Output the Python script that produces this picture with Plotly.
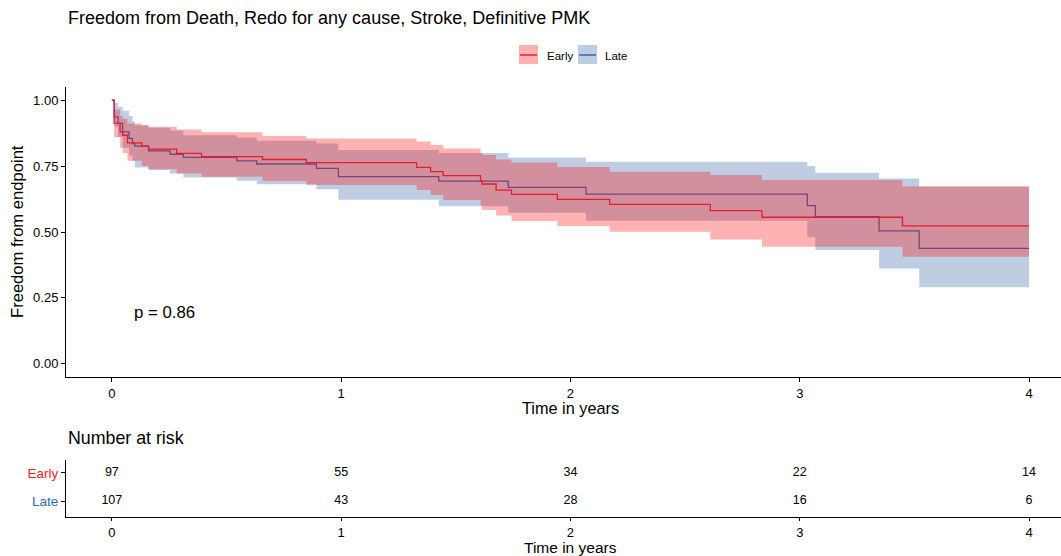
import plotly.graph_objects as go

# ---------------- data ----------------
early_t = [0, 0.010, 0.036, 0.047, 0.068, 0.131, 0.160, 0.283, 0.391, 0.657, 0.848, 1.329, 1.390, 1.445,
           1.608, 1.614, 1.676, 1.743, 1.943, 2.171, 2.610, 2.835, 3.448, 4.0]
early_s = [1, 0.912, 0.880, 0.867, 0.838, 0.826, 0.814, 0.798, 0.786, 0.775, 0.763, 0.745, 0.729, 0.714,
           0.694, 0.682, 0.659, 0.643, 0.624, 0.605, 0.581, 0.556, 0.523, 0.523]
early_up = [1, 0.965, 0.94, 0.93, 0.912, 0.905, 0.899, 0.889, 0.878, 0.864, 0.855, 0.843, 0.830, 0.817,
            0.800, 0.792, 0.775, 0.764, 0.747, 0.729, 0.716, 0.697, 0.674, 0.674]
early_lo = [1, 0.86, 0.82, 0.80, 0.77, 0.75, 0.738, 0.722, 0.710, 0.693, 0.678, 0.659, 0.640, 0.621,
            0.600, 0.583, 0.563, 0.542, 0.523, 0.501, 0.472, 0.444, 0.406, 0.406]

late_t = [0, 0.010, 0.027, 0.047, 0.075, 0.090, 0.100, 0.160, 0.254, 0.312, 0.545, 0.632, 0.892, 0.988,
          1.426, 1.729, 2.068, 3.033, 3.068, 3.346, 3.521, 4.0]
late_s = [1, 0.937, 0.912, 0.880, 0.855, 0.835, 0.826, 0.808, 0.795, 0.783, 0.770, 0.758, 0.741, 0.710,
          0.693, 0.669, 0.644, 0.600, 0.558, 0.504, 0.438, 0.438]
late_up = [1, 0.99, 0.975, 0.96, 0.94, 0.92, 0.905, 0.895, 0.885, 0.867, 0.858, 0.846, 0.836, 0.811,
           0.800, 0.783, 0.766, 0.750, 0.725, 0.703, 0.672, 0.672]
late_lo = [1, 0.90, 0.86, 0.82, 0.79, 0.77, 0.745, 0.735, 0.722, 0.707, 0.694, 0.681, 0.662, 0.622,
           0.598, 0.573, 0.543, 0.480, 0.432, 0.362, 0.290, 0.290]

risk_times = [0, 1, 2, 3, 4]
early_risk = [97, 55, 34, 22, 14]
late_risk = [107, 43, 28, 16, 6]

y_ticks = [0, 0.25, 0.5, 0.75, 1.0]
x_ticks = [0, 1, 2, 3, 4]
p_text = "p = 0.86"

# ---------------- style ----------------
FONT = "Liberation Sans, Arial, sans-serif"
RED = "#EC1A2C"
BLUE = "#3A64AE"
RED_FILL = "rgba(255,0,0,0.30)"
BLUE_FILL = "rgba(44,88,160,0.30)"
W, H = 1061, 556


def px_x(p):
    return p / W


def px_y(p):
    return 1 - p / H


fig = go.Figure()

# Late band + line
fig.add_trace(go.Scatter(x=late_t, y=late_lo, mode="lines", line=dict(width=0, shape="hv"),
                         hoverinfo="skip", showlegend=False, xaxis="x", yaxis="y"))
fig.add_trace(go.Scatter(x=late_t, y=late_up, mode="lines", line=dict(width=0, shape="hv"),
                         fill="tonexty", fillcolor=BLUE_FILL, hoverinfo="skip", showlegend=False,
                         xaxis="x", yaxis="y"))
fig.add_trace(go.Scatter(x=late_t, y=late_s, mode="lines", line=dict(color=BLUE, width=1.3, shape="hv"),
                         name="Late", showlegend=False, xaxis="x", yaxis="y"))
# Early band + line
fig.add_trace(go.Scatter(x=early_t, y=early_lo, mode="lines", line=dict(width=0, shape="hv"),
                         hoverinfo="skip", showlegend=False, xaxis="x", yaxis="y"))
fig.add_trace(go.Scatter(x=early_t, y=early_up, mode="lines", line=dict(width=0, shape="hv"),
                         fill="tonexty", fillcolor=RED_FILL, hoverinfo="skip", showlegend=False,
                         xaxis="x", yaxis="y"))
fig.add_trace(go.Scatter(x=early_t, y=early_s, mode="lines", line=dict(color=RED, width=1.3, shape="hv"),
                         name="Early", showlegend=False, xaxis="x", yaxis="y"))

# Risk table numbers
fig.add_trace(go.Scatter(x=risk_times, y=[2] * len(risk_times), mode="text",
                         text=[str(v) for v in early_risk], textfont=dict(size=12.5, color="black", family=FONT),
                         showlegend=False, hoverinfo="skip", xaxis="x2", yaxis="y2"))
fig.add_trace(go.Scatter(x=risk_times, y=[1] * len(risk_times), mode="text",
                         text=[str(v) for v in late_risk], textfont=dict(size=12.5, color="black", family=FONT),
                         showlegend=False, hoverinfo="skip", xaxis="x2", yaxis="y2"))

x_range = [-0.2, (W - 111) / 229.5]
axis_common = dict(showline=True, linecolor="black", linewidth=1, ticks="outside", ticklen=4,
                   tickcolor="black", tickwidth=1, showgrid=False, zeroline=False, automargin=False,
                   tickfont=dict(size=13, color="black", family=FONT))

fig.update_layout(
    width=W, height=H,
    margin=dict(l=0, r=0, t=0, b=0),
    paper_bgcolor="white", plot_bgcolor="white",
    font=dict(family=FONT, color="black"),
    showlegend=False,
    xaxis=dict(domain=[px_x(66), 1], range=x_range, tickvals=x_ticks, anchor="y", **axis_common),
    yaxis=dict(domain=[px_y(377), px_y(87)], range=[-0.05, 1.05], tickvals=y_ticks,
               ticktext=[f"{v:.2f}" for v in y_ticks], anchor="x", **axis_common),
    xaxis2=dict(domain=[px_x(66), 1], range=x_range, tickvals=x_ticks, anchor="y2",
                **{**axis_common, "ticklen": 3}),
    yaxis2=dict(domain=[px_y(517), px_y(460)], range=[0.43, 2.46], tickvals=[2, 1],
                ticktext=['<span style="color:#F21E24">Early</span>',
                          '<span style="color:#2670B8">Late</span>'],
                anchor="x2", **{**axis_common, "tickfont": dict(size=13.5, family=FONT)}),
)

ann = []
ann.append(dict(text="Freedom from Death, Redo for any cause, Stroke, Definitive PMK", x=px_x(66), y=px_y(18),
                xref="paper", yref="paper", xanchor="left", yanchor="middle", showarrow=False,
                font=dict(size=18, color="black", family=FONT)))
ann.append(dict(text="Number at risk", x=px_x(66), y=px_y(438), xref="paper", yref="paper",
                xanchor="left", yanchor="middle", showarrow=False, font=dict(size=17.8, color="black", family=FONT)))
ann.append(dict(text="Time in years", x=px_x(570), y=px_y(408), xref="paper", yref="paper",
                xanchor="center", yanchor="middle", showarrow=False, font=dict(size=16.3, color="black", family=FONT)))
ann.append(dict(text="Time in years", x=px_x(570), y=px_y(547.5), xref="paper", yref="paper",
                xanchor="center", yanchor="middle", showarrow=False, font=dict(size=15.5, color="black", family=FONT)))
ann.append(dict(text="Freedom from endpoint", x=px_x(17), y=px_y(232), xref="paper", yref="paper",
                xanchor="center", yanchor="middle", textangle=-90, showarrow=False,
                font=dict(size=16.6, color="black", family=FONT)))
ann.append(dict(text=p_text, x=0.087, y=0.193, xref="x", yref="y", xanchor="left", yanchor="middle",
                showarrow=False, font=dict(size=16.8, color="black", family=FONT)))
# legend labels
ann.append(dict(text="Early", x=px_x(545), y=px_y(56), xref="paper", yref="paper", xanchor="left",
                yanchor="middle", showarrow=False, font=dict(size=11.5, color="black", family=FONT)))
ann.append(dict(text="Late", x=px_x(603), y=px_y(56), xref="paper", yref="paper", xanchor="left",
                yanchor="middle", showarrow=False, font=dict(size=11.5, color="black", family=FONT)))

shapes = []
for (x0, fill, col) in [(519, RED_FILL, RED), (578, BLUE_FILL, BLUE)]:
    shapes.append(dict(type="rect", xref="paper", yref="paper", x0=px_x(x0), x1=px_x(x0 + 19),
                       y0=px_y(64), y1=px_y(45), fillcolor=fill, line=dict(width=0), layer="above"))
    shapes.append(dict(type="line", xref="paper", yref="paper", x0=px_x(x0 + 1), x1=px_x(x0 + 18),
                       y0=px_y(55), y1=px_y(55), line=dict(color=col, width=1.5), layer="above"))

fig.update_layout(annotations=ann, shapes=shapes)
fig.write_html("out.html", config={"displayModeBar": False},
               post_script="document.body.style.margin='0';document.body.style.overflow='hidden';")
